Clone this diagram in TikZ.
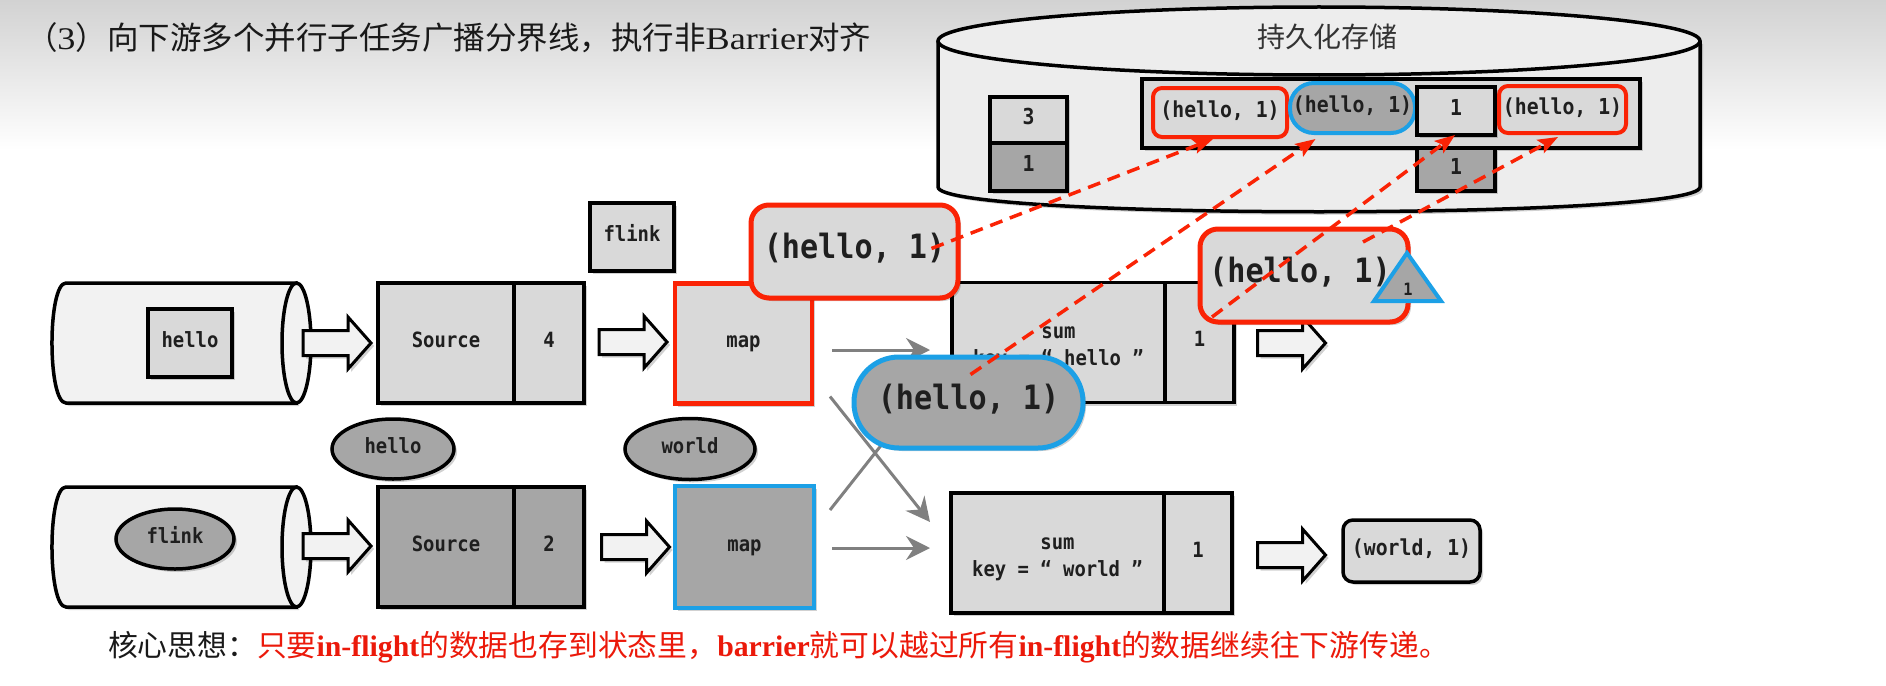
\documentclass[tikz,border=0pt]{standalone}
\usepackage{fontspec}
\setmainfont{Liberation Serif}
\newfontfamily\cjk{Noto Sans CJK SC}
\newfontfamily\monof[FakeStretch=0.9]{DejaVu Sans Mono}
\newfontfamily\latw[FakeStretch=1.15]{Liberation Serif}
\usetikzlibrary{arrows.meta,shapes.geometric,shadows,calc}
\definecolor{lgray}{HTML}{D9D9D9}
\definecolor{dgray}{HTML}{A6A6A6}
\definecolor{cylgray}{HTML}{F2F2F2}
\definecolor{stgray}{HTML}{EDEDED}
\definecolor{fred}{RGB}{250,35,5}
\definecolor{fblue}{RGB}{28,160,230}
\definecolor{txtred}{RGB}{235,25,10}
\definecolor{arrgray}{HTML}{808080}
\definecolor{bgtop}{HTML}{D2D2D2}
\tikzset{
  sh/.style={drop shadow={shadow xshift=3pt,shadow yshift=-3pt,opacity=0.18,fill=black}},
  barr/.pic={\draw[line width=3pt,fill=cylgray,line join=miter,sh]
     (-34,-12.5) -- (11,-12.5) -- (11,-26) -- (34,0) -- (11,26) -- (11,12.5) -- (-34,12.5) -- cycle;}
}
\begin{document}
\begin{tikzpicture}[x=1pt,y=-1pt,
  every node/.style={inner sep=0pt,outer sep=0pt},
  mono/.style={font=\monof\bfseries\fontsize{21}{27}\selectfont,text={black!88},text height=13.5pt,text depth=5pt},
  smono/.style={font=\monof\bfseries\fontsize{22}{27}\selectfont,text={black!88},text height=14pt,text depth=5pt},
  big/.style={font=\monof\bfseries\fontsize{33.5}{38}\selectfont,text={black!88},text height=21pt,text depth=7pt},
  multi/.style={align=center,text height={},text depth={}},
  lbox/.style={draw=black,line width=3.5pt,fill=lgray,mono,sh},
  dbox/.style={lbox,fill=dgray},
  ell/.style={ellipse,draw=black,line width=3.5pt,fill=dgray,mono,sh},
  redbox/.style={draw=fred,line width=5pt,fill=lgray,rounded corners=18pt,big,sh},
  bluestad/.style={draw=fblue,line width=5pt,fill=dgray,rounded corners=45pt,big,sh},
  smallred/.style={draw=fred,line width=4pt,fill=lgray,rounded corners=9pt,smono},
  smallblue/.style={draw=fblue,line width=4pt,fill=dgray,rounded corners=24pt,smono},
  cylst/.style={draw=black,line width=3.5pt,fill=cylgray},
  garr/.style={draw=arrgray,line width=3pt,-{Stealth[length=24pt,width=24pt,inset=8pt]}},
  darr/.style={draw=fred,line width=3.5pt,dash pattern=on 13pt off 8pt,-{Stealth[length=20pt,width=15pt,inset=4pt]}}
]
\useasboundingbox (0,0) rectangle (1886,685);
\shade[top color=bgtop,bottom color=white] (0,0) rectangle (1886,150);

% title
\node[anchor=west,font=\cjk\fontsize{31.5}{35}\selectfont,text=black!90] (title) at (26,38)
  {（{\latw 3}）向下游多个并行子任务广播分界线，执行非{\latw Barrier}对齐};

% persistent storage
\path[draw=black,line width=3.5pt,fill=stgray,sh] (938,41) -- (938,187) .. controls (938,220) and (1700,220) .. (1700,187) -- (1700,41);
\draw[line width=3.5pt,fill=stgray] (1319,41) ellipse [x radius=381,y radius=34];
\node[font=\cjk\fontsize{28}{32}\selectfont,text=black!80] (stlabel) at (1327,37) {持久化存储};
\node[lbox,minimum width=498,minimum height=69] (stlong) at (1391,113.5) {};
\node[lbox,smono,minimum width=77,minimum height=46] (s3) at (1028.5,120) {3};
\node[dbox,smono,minimum width=77,minimum height=48] (s1) at (1028.5,167) {1};
\node[smallred,minimum width=134,minimum height=49] (st1) at (1220,112.5) {(hello, 1)};
\node[smallblue,minimum width=125,minimum height=50] (st2) at (1352.5,108) {(hello, 1)};
\node[lbox,smono,minimum width=78,minimum height=48] (st3) at (1456,111) {1};
\node[dbox,smono,minimum width=78,minimum height=43] (st3b) at (1456,169.5) {1};
\node[smallred,minimum width=127,minimum height=47] (st4) at (1562.5,109.5) {(hello, 1)};

% row cylinders
\draw[cylst,sh] (66,283) -- (296,283) -- (296,403) -- (66,403) .. controls (47.3,403) and (47.3,283) .. (66,283) -- cycle;
\draw[cylst] (296.5,343) ellipse [x radius=14.5,y radius=60];
\draw[cylst,sh] (66,487) -- (296,487) -- (296,607) -- (66,607) .. controls (47.3,607) and (47.3,487) .. (66,487) -- cycle;
\draw[cylst] (296.5,547) ellipse [x radius=14.5,y radius=60];

% row 1
\node[lbox,minimum width=84,minimum height=68] (hello1) at (190,343) {hello};
\node[lbox,minimum width=136,minimum height=120] (src1) at (446,343) {Source};
\node[lbox,minimum width=70,minimum height=120] (cnt1) at (549,343) {4};
\node[lbox,minimum width=84,minimum height=68] (flinkbox) at (632,237) {flink};
\node[lbox,draw=fred,line width=4.5pt,minimum width=137,minimum height=120] (map1) at (743.5,343.5) {map};
\node[lbox,multi,minimum width=213,minimum height=120] (sum1) at (1058.5,342.5) {\rule{0pt}{24pt}sum\\key = “ hello ”};
\node[lbox,minimum width=69,minimum height=120] (cnt3) at (1199.5,342.5) {1};

% row 2
\node[ell,minimum width=118,minimum height=60] (flink2) at (175,539) {flink};
\node[ell,minimum width=122,minimum height=60] (helloell) at (393,449) {hello};
\node[ell,minimum width=130,minimum height=61] (worldell) at (690,449) {world};
\node[dbox,minimum width=136,minimum height=120] (src2) at (446,547) {Source};
\node[dbox,minimum width=70,minimum height=120] (cnt2) at (549,547) {2};
\node[dbox,draw=fblue,line width=4.5pt,minimum width=139,minimum height=122] (map2) at (744.5,547) {map};
\node[lbox,multi,minimum width=213,minimum height=120] (sum2) at (1057.5,553) {\rule{0pt}{24pt}sum\\key = “ world ”};
\node[lbox,minimum width=68,minimum height=120] (cnt4) at (1198,553) {1};
\node[lbox,smono,rounded corners=10pt,minimum width=137,minimum height=62] (worldout) at (1411.5,551) {(world, 1)};

% block arrows
\pic (ba1) at (337,343) {barr};
\pic (ba2) at (633,342) {barr};
\pic (ba3) at (1291.5,343) {barr};
\pic (ba4) at (337,546) {barr};
\pic (ba5) at (635.5,547) {barr};
\pic (ba6) at (1291.5,555) {barr};

% gray connectors
\draw[garr] ($(map1.east)+(20,6.5)$) -- ($(sum1.west)+(-22,7.5)$);
\draw[garr] ($(map1.south east)+(18,-7)$) -- ($(sum2.west)+(-21,-31)$);
\draw[garr] ($(map2.north east)+(16,24)$) -- ($(sum1.west)+(-22,41)$);
\draw[garr] ($(map2.east)+(18,1)$) -- ($(sum2.west)+(-21,-5)$);

% overlays
\node[redbox,minimum width=207,minimum height=93] (co1) at (854.5,251.5) {(hello, 1)};
\node[bluestad,minimum width=229,minimum height=91] (stad) at (968.5,402.5) {(hello, 1)};
\node[redbox,minimum width=208,minimum height=93] (co2) at (1304,275.5) {(hello, 1)\hspace*{8pt}};
\draw[draw=fblue,line width=4pt,fill=dgray,line join=miter] (1407,253) -- (1441,301) -- (1374,301) -- cycle;
\node[font=\monof\bfseries\fontsize{17}{19}\selectfont,text={black!88}] (tri1) at (1408,289) {1};

% dashed arrows to storage
\draw[darr] ($(co1.center)+(77,-3)$) -- ($(st1.south)+(-7,2)$);
\draw[darr] ($(stad.center)+(2,-28)$) -- ($(st2.south)+(-37,6)$);
\draw[darr] ($(co2.south west)+(12,-5)$) -- ($(st3.south)+(-1,0)$);
\draw[darr] ($(co2.north)+(59,13)$) -- ($(st4.south)+(-4.5,4)$);

% bottom text
\node[anchor=west,font=\cjk\fontsize{29.8}{33}\selectfont,text=black!90] (core) at (108,647)
  {核心思想：\textcolor{txtred}{只要{\rmfamily\bfseries in-flight}的数据也存到状态里，{\rmfamily\bfseries barrier}就可以越过所有{\rmfamily\bfseries in-flight}的数据继续往下游传递。}};
\end{tikzpicture}
\end{document}
